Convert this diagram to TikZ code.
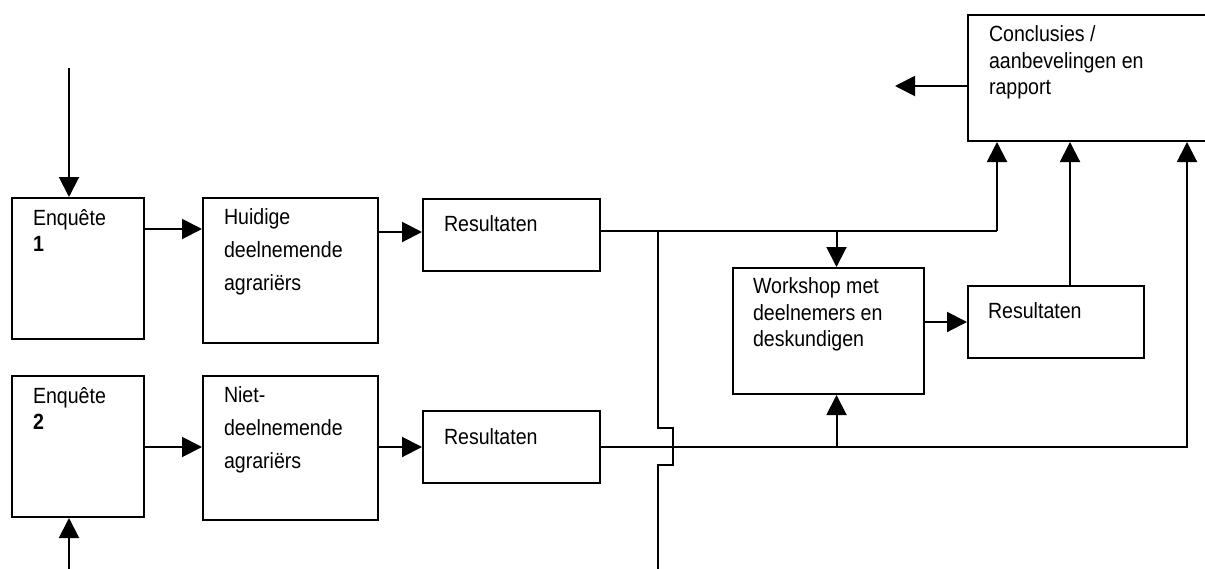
\documentclass[tikz,border=0pt]{standalone}
\usepackage{fontspec}
\setmainfont{Liberation Sans}[FakeStretch=0.89]
\usetikzlibrary{arrows.meta,positioning,calc}

\begin{document}
\begin{tikzpicture}[x=0.5pt,y=-0.5pt,line width=1pt,>={Triangle[length=10pt,width=10pt]},
  main node/.style={rectangle,draw,anchor=north west,inner sep=0pt},
  text node/.style={anchor=north west,inner sep=0pt,align=left,
    font=\fontsize{11pt}{13.25pt}\selectfont,execute at begin node=\rule{0pt}{11pt}},
  wide text/.style={text node,font=\fontsize{11pt}{16.5pt}\selectfont}]

  \useasboundingbox (0,0) rectangle (1205,568);
  \clip (0,0) rectangle (1205,568);

  % boxes
  \node[main node,minimum width=66pt,minimum height=70.5pt] (enq1) at (11,197) {};
  \node[main node,minimum width=87.5pt,minimum height=72.5pt] (huid) at (202,197) {};
  \node[main node,minimum width=88.5pt,minimum height=36pt] (res1) at (422,198) {};
  \node[main node,minimum width=66pt,minimum height=70.5pt] (enq2) at (11,375) {};
  \node[main node,minimum width=87.5pt,minimum height=72pt] (niet) at (202,375) {};
  \node[main node,minimum width=88.5pt,minimum height=36pt] (res2) at (422,410) {};
  \node[main node,minimum width=95.5pt,minimum height=63pt] (work) at (732,267) {};
  \node[main node,minimum width=88pt,minimum height=36pt] (res3) at (967,285) {};
  \node[main node,minimum width=125pt,minimum height=63pt] (concl) at (967,14) {};

  % texts
  \node[text node] (enq1t) at ([shift={(10.5pt,-5.5pt)}]enq1.north west) {Enquête\\\textbf{1}};
  \node[wide text] (huidt) at ([shift={(10.5pt,-5.5pt)}]huid.north west) {Huidige\\deelnemende\\agrariërs};
  \node[text node] (res1t) at ([shift={(10.5pt,-5pt)}]res1.north west) {Resultaten};
  \node[text node] (enq2t) at ([shift={(10.5pt,-5.5pt)}]enq2.north west) {Enquête\\\textbf{2}};
  \node[wide text] (niett) at ([shift={(10.5pt,-5.5pt)}]niet.north west) {Niet-\\deelnemende\\agrariërs};
  \node[text node] (res2t) at ([shift={(10.5pt,-5.5pt)}]res2.north west) {Resultaten};
  \node[text node] (workt) at ([shift={(10pt,-5pt)}]work.north west) {Workshop met\\deelnemers en\\deskundigen};
  \node[text node] (res3t) at ([shift={(10pt,-5pt)}]res3.north west) {Resultaten};
  \node[text node] (conclt) at ([shift={(10.5pt,-5.5pt)}]concl.north west) {Conclusies /\\aanbevelingen en\\rapport};

  % connector points
  \coordinate (t1) at ([yshift=-16.5pt]res1.north east);
  \coordinate (b1) at ([yshift=-18.5pt]res2.north east);
  \coordinate (c1) at ([xshift=15pt]concl.south west);
  \coordinate (c2) at ([xshift=51.5pt]concl.south west);
  \coordinate (c3) at ([xshift=110pt]concl.south west);
  \coordinate (w1) at ([xshift=4pt]work.north);
  \coordinate (w2) at ([xshift=4pt]work.south);
  \coordinate (in1) at (69,68);
  \coordinate (in2) at (69,570);
  \coordinate (down) at (658,570);
  \coordinate (out) at (895,86);

  % connectors
  \draw[->] (in1) -- (in1 |- enq1.north);
  \draw[->] (in2) -- (in2 |- enq2.south);
  \draw[->] ([yshift=-16pt]enq1.north east) -- ([yshift=-16pt]huid.north west);
  \draw[->] ([yshift=-17.5pt]huid.north east) -- ([yshift=-17pt]res1.north west);
  \draw[->] ([yshift=-36pt]enq2.north east) -- ([yshift=-36pt]niet.north west);
  \draw[->] ([yshift=-36pt]niet.north east) -- ([yshift=-18.5pt]res2.north west);
  \draw[line width=0.6pt] (t1) -- (c1 |- t1);
  \draw[->] (c1 |- t1) -- (c1);
  \draw[->] (w1 |- t1) -- (w1);
  \draw (down |- t1) -- ++(0,197) -- ++(15,0) -- ++(0,37) -- ++(-15,0) -- (down);
  \draw[->] (b1) -| (c3);
  \draw[->] (w2 |- b1) -- (w2);
  \draw[->] (work.east |- res3.west) -- (res3.west);
  \draw[->] (c2 |- res3.north) -- (c2);
  \draw[->] (concl.west |- out) -- (out);
\end{tikzpicture}
\end{document}
